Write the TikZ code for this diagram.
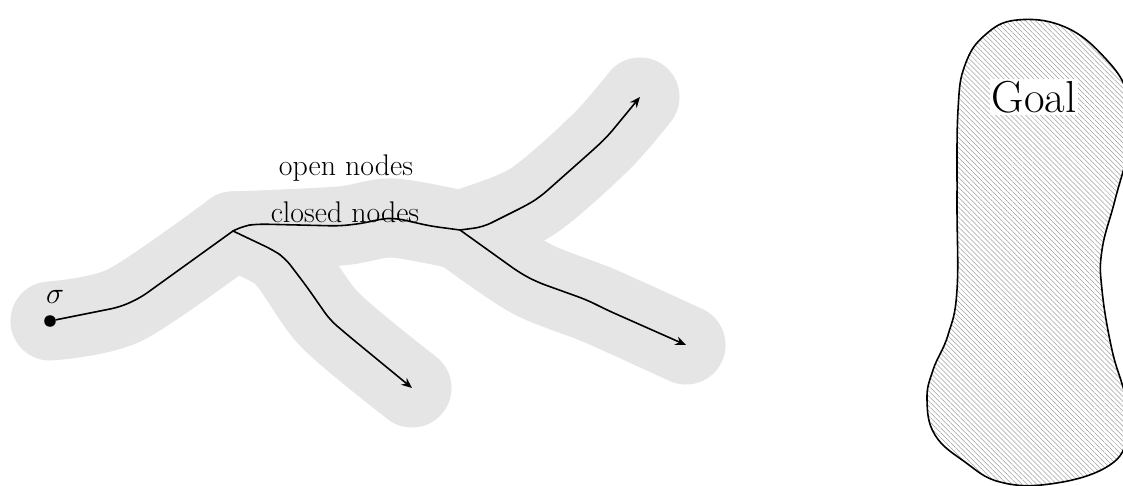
\documentclass[tikz,border=0pt]{standalone}
\usetikzlibrary{arrows.meta,patterns.meta}
\begin{document}
\begin{tikzpicture}[x=0.02cm,y=-0.02cm,
  band/.style={line width=45pt, draw=gray!20, line cap=round, line join=round},
  trail/.style={line width=0.9pt, line join=round, line cap=round, rounded corners=5pt},
  arr/.style={trail,-{Stealth[length=6pt,width=5pt]}},
  lab/.style={font=\fontsize{17}{20}\selectfont, inner sep=1pt}]
\useasboundingbox (0,0) rectangle (1123,486);
\clip (0,0) rectangle (1123,486);
% key points
\coordinate (b1) at (233,231);
\coordinate (b2) at (460,230);
\coordinate (e1) at (412,388);
\coordinate (e2) at (640,97);
\coordinate (e3) at (686,345);
\coordinate (s0) at (50,321);
% band
\draw[band] plot[smooth,tension=0.5] coordinates {(50,321) (125,305) (233,231)};
\draw[band] plot[smooth,tension=0.5] coordinates {(233,231) (340,226) (392,218) (460,230)};
\draw[band] plot[smooth,tension=0.5] coordinates {(460,230) (530,203) (600,143) (640,97)};
\draw[band] plot[smooth,tension=0.5] coordinates {(460,230) (530,278) (600,306) (686,345)};
\draw[band] plot[smooth,tension=0.5] coordinates {(233,231) (282,255) (330,320) (412,388)};
% trails
\node[circle, fill, inner sep=0pt, minimum size=6.6pt] (s) at (s0) {};
\draw[trail] (s) -- (120,307) -- (140,298) -- (b1);
\draw[trail] (b1) -- (243,226) -- (257,224) -- (340,226) -- (365,223) -- (380,219) -- (395,218) -- (430,226) -- (b2);
\draw[arr] (b2) -- (483,227) -- (527,205) -- (540,197) -- (593,150) -- (607,137) -- (e2);
\draw[arr] (b2) -- (520,273) -- (537,282) -- (587,300) -- (607,310) -- (e3);
\draw[arr] (b1) -- (273,250) -- (285,258) -- (307,287) -- (330,320) -- (350,337) -- (e1);
% labels
\node[lab] (sig) at (55,297) {$\sigma$};
\node[lab] (open) at (346,168) {open nodes};
\node[lab] (closed) at (345,212) {closed nodes};
% goal
\draw[line width=0.9pt, pattern={Lines[angle=-45,distance=2pt,line width=0.3pt]}, pattern color=gray!75]
  plot[smooth cycle, tension=0.7] coordinates {(1017,20) (1065,27) (1105,58) (1128,95) (1130,140) (1115,200) (1102,250) (1102,290) (1112,350) (1126,400) (1127,440) (1105,468) (1050,484) (1000,482) (965,462) (935,435) (927,400) (933,370) (948,335) (957,290) (957,200) (958,110) (965,65) (985,35)};
\node[fill=white, inner sep=1pt, font=\fontsize{25.5}{30}\selectfont] (goal) at (1034,97) {Goal};
\end{tikzpicture}
\end{document}
